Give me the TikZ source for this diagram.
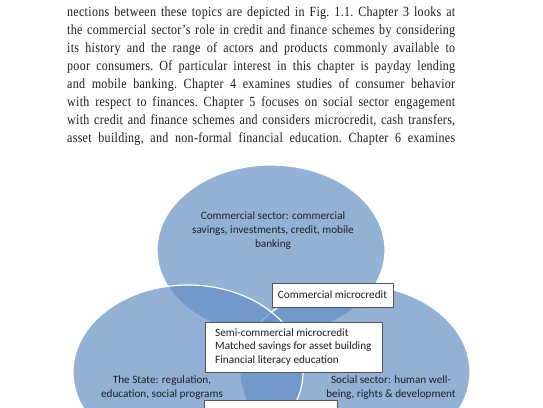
\documentclass[tikz,border=0pt]{standalone}
\usepackage{fontspec}
\setmainfont{Liberation Serif}
\newfontfamily\bodyfont[FakeStretch=0.86,LetterSpace=2]{Liberation Serif}
\newfontfamily\calfont{Carlito}
\definecolor{vbase}{HTML}{6590C4}
\definecolor{txt}{HTML}{1E1E1E}
\definecolor{boxline}{HTML}{555555}
\tikzset{
  line/.style={anchor=base west, inner sep=0pt, text=txt, font=\bodyfont\fontsize{14}{16}\selectfont},
  circ/.style={fill=vbase, fill opacity=0.7, draw=white, line width=1.2pt},
  ctext/.style={align=center, inner sep=0pt, text=txt, font=\calfont\fontsize{11.2}{14}\selectfont},
  wbox/.style={draw=boxline, fill=white, line width=0.6pt, inner sep=0pt, text=txt, font=\calfont\fontsize{11.2}{13.5}\selectfont},
}
\newcommand{\tl}[1]{\makebox[388pt][s]{\frenchspacing#1}}
\begin{document}
\begin{tikzpicture}[x=1pt,y=-1pt]
\useasboundingbox (0,0) rectangle (543,407);
\fill[white] (0,0) rectangle (543,407);
% body text
\node[line] (t1) at (67,16) {\tl{nections between these topics are depicted in Fig. 1.1. Chapter 3 looks at}};
\node[line] (t2) at (67,34) {\tl{the commercial sector’s role in credit and finance schemes by considering}};
\node[line] (t3) at (67,52) {\tl{its history and the range of actors and products commonly available to}};
\node[line] (t4) at (67,70) {\tl{poor consumers. Of particular interest in this chapter is payday lending}};
\node[line] (t5) at (67,88) {\tl{and mobile banking. Chapter 4 examines studies of consumer behavior}};
\node[line] (t6) at (67,106) {\tl{with respect to finances. Chapter 5 focuses on social sector engagement}};
\node[line] (t7) at (67,124) {\tl{with credit and finance schemes and considers microcredit, cash transfers,}};
\node[line] (t8) at (67,142) {\tl{asset building, and non-formal financial education. Chapter 6 examines}};
% Venn circles
\path[circ] (271,250) ellipse [x radius=114, y radius=85];
\path[circ] (355,372) ellipse [x radius=115, y radius=87];
\path[circ] (188,372) ellipse [x radius=115, y radius=87];
% circle labels
\node[ctext] (ctop) at (273,231) {Commercial sector: commercial\\savings, investments, credit, mobile\\banking};
\node[ctext] (cstate) at (162,388) {The State: regulation,\\education, social programs};
\node[ctext] (csocial) at (391,388) {Social sector: human well-\\being, rights \& development};
% boxes
\node[wbox, minimum width=121pt, minimum height=24pt] (cm) at (332.5,295) {Commercial microcredit};
\node[wbox, minimum width=177pt, minimum height=50pt, anchor=north west] (semi) at (205,322) {};
\node[ctext, align=left, anchor=west, font=\calfont\fontsize{11.2}{13.5}\selectfont] (semitext) at (215,347) {Semi-commercial microcredit\\Matched savings for asset building\\Financial literacy education};
\node[wbox, minimum width=133pt, minimum height=30pt, anchor=north west] (bot) at (204,400) {};
\end{tikzpicture}
\end{document}
